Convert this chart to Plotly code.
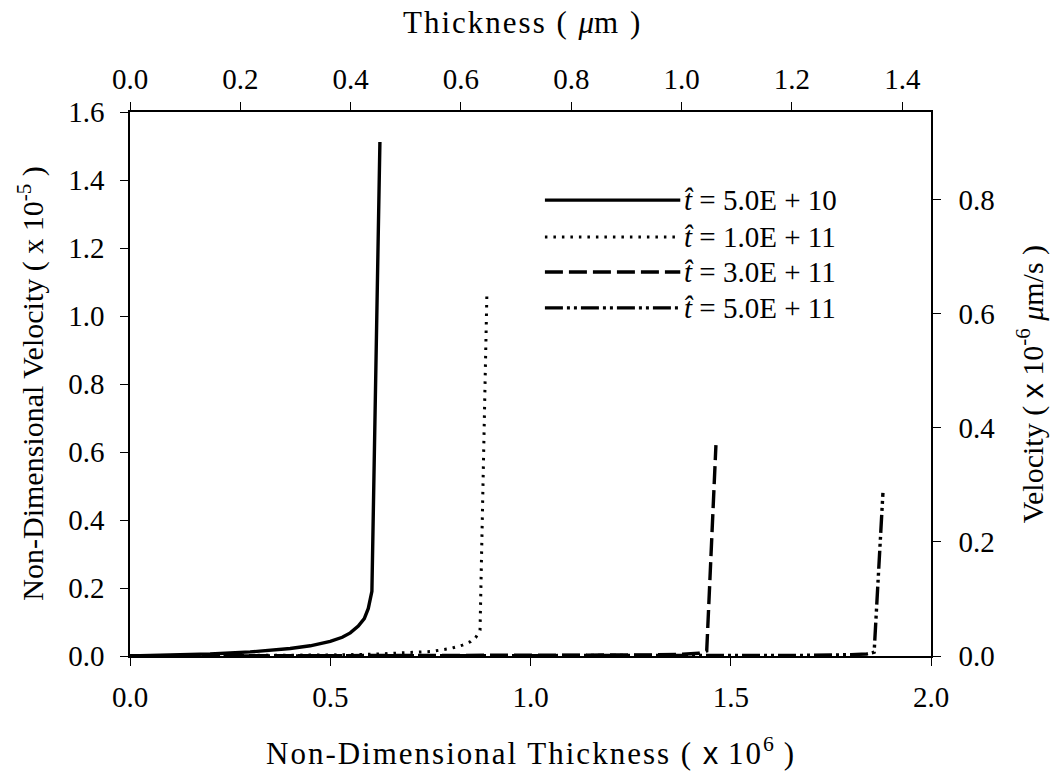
import plotly.graph_objects as go

# Velocity profiles (non-dimensional) at four non-dimensional times
x_t1 = [0.0, 0.1, 0.2, 0.3, 0.4, 0.45, 0.5, 0.53, 0.55, 0.57, 0.585, 0.595, 0.604, 0.624]
v_t1 = [0.0, 0.002, 0.006, 0.012, 0.022, 0.03, 0.043, 0.055, 0.068, 0.088, 0.11, 0.14, 0.19, 1.512]

x_t2 = [0.0, 0.3, 0.5, 0.6, 0.7, 0.75, 0.8, 0.83, 0.85, 0.863, 0.874, 0.891]
v_t2 = [0.0, 0.001, 0.003, 0.005, 0.009, 0.013, 0.022, 0.032, 0.042, 0.054, 0.076, 1.06]

x_t3 = [0.0, 0.5, 1.0, 1.2, 1.3, 1.38, 1.42, 1.44, 1.463]
v_t3 = [0.0, 0.0005, 0.001, 0.002, 0.003, 0.005, 0.008, 0.015, 0.62]

x_t4 = [0.0, 0.5, 1.0, 1.5, 1.7, 1.8, 1.84, 1.858, 1.88]
v_t4 = [0.0, 0.0002, 0.0005, 0.001, 0.002, 0.004, 0.006, 0.011, 0.48]

labels = ["<i>t̂</i> = 5.0E + 10", "<i>t̂</i> = 1.0E + 11",
          "<i>t̂</i> = 3.0E + 11", "<i>t̂</i> = 5.0E + 11"]

styles = [
    dict(width=3.4, dash="solid"),
    dict(width=3.0, dash="2.5px,6px"),
    dict(width=3.4, dash="18px,6px"),
    dict(width=3.4, dash="18px,4px,3px,4px,3px,4px"),
]

FONT = "Liberation Serif"
fig = go.Figure()

for xs, vs, st, lab in zip([x_t1, x_t2, x_t3, x_t4], [v_t1, v_t2, v_t3, v_t4], styles, labels):
    fig.add_trace(go.Scatter(x=xs, y=vs, mode="lines", name=lab,
                             line=dict(color="black", **st), showlegend=False))

# secondary axes (physical units)
fig.add_trace(go.Scatter(x=[None], y=[None], xaxis="x2", yaxis="y2",
                         showlegend=False, hoverinfo="skip"))

axis_common = dict(showline=True, linecolor="black", linewidth=1.5,
                   ticks="outside", ticklen=8, tickwidth=1.3, tickcolor="black",
                   showgrid=False, zeroline=False,
                   tickfont=dict(family=FONT, size=29, color="black"))

fig.update_layout(
    width=1059, height=773,
    margin=dict(l=130, r=128, t=112, b=117),
    paper_bgcolor="white", plot_bgcolor="white",
    font=dict(family=FONT, color="black"),
    xaxis=dict(range=[0, 2.0], dtick=0.5, tickformat=".1f", ticklabelstandoff=6, **axis_common),
    yaxis=dict(range=[0, 1.6], dtick=0.2, tickformat=".1f", ticklabelstandoff=10, **axis_common),
    xaxis2=dict(range=[0, 1.452], dtick=0.2, tickformat=".1f", overlaying="x",
                side="top", anchor="y", ticklabelstandoff=2, **axis_common),
    yaxis2=dict(range=[0, 0.954], dtick=0.2, tickformat=".1f", overlaying="y",
                side="right", anchor="x", ticklabelstandoff=12, **axis_common),
)

title_font = dict(family=FONT, size=30, color="black")
wide = "<span style='letter-spacing:2px'>{}</span>"
fig.add_annotation(text=wide.format("Non-Dimensional Thickness ( ")
                   + "<span style='font-family:Liberation Sans'>x</span>"
                   + wide.format(" 10") + "<sup>6</sup>" + wide.format(" )"),
                   xref="paper", yref="paper", x=0.5, y=-0.175, yanchor="middle",
                   showarrow=False, font=dict(family=FONT, size=31, color="black"))
fig.add_annotation(text=wide.format("Thickness ( ") + "<i>μ</i>" + wide.format("m )"),
                   xref="paper", yref="paper", x=0.49, y=1.165, yanchor="middle",
                   showarrow=False, font=dict(family=FONT, size=31, color="black"))
fig.add_annotation(text="Non-Dimensional Velocity ( x 10<sup>-5</sup> )",
                   xref="paper", yref="paper", x=-0.124, y=0.5, xanchor="center",
                   textangle=-90, showarrow=False, font=title_font)
fig.add_annotation(text="Velocity ( <span style='font-family:Liberation Sans'>x</span> 10<sup>-6</sup> <i>μ</i>m/s )",
                   xref="paper", yref="paper", x=1.124, y=0.5, xanchor="center",
                   textangle=-90, showarrow=False, font=title_font)

# legend drawn as long line samples with labels
legend_rows = [0.838, 0.770, 0.706, 0.640]
for yr, st, lab in zip(legend_rows, styles, labels):
    fig.add_shape(type="line", xref="paper", yref="paper",
                  x0=0.518, x1=0.687, y0=yr, y1=yr,
                  line=dict(color="black", **st))
    fig.add_annotation(text=lab, xref="paper", yref="paper",
                       x=0.689, y=yr, xanchor="left", yanchor="middle",
                       showarrow=False, font=dict(family=FONT, size=29, color="black"))

fig.write_html("out.html")
